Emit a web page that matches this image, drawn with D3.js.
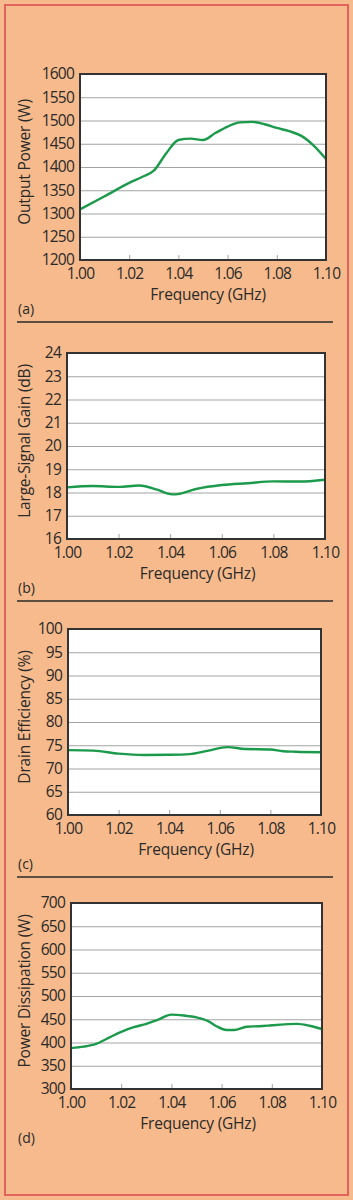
<!DOCTYPE html>
<html>
<head>
<meta charset="utf-8">
<script src="https://cdn.jsdelivr.net/npm/d3@7"></script>
<style>
  html, body { margin: 0; padding: 0; background: #f6ba8c; }
  svg { display: block; }
  text { font-family: "Open Sans", Lato, sans-serif; fill: #2a2a2a; }
</style>
</head>
<body>
<svg id="chart" width="353" height="1200"></svg>
<script>
// x ticks shared by all four panels
const freqTicks = [1.00, 1.02, 1.04, 1.06, 1.08, 1.10];

// (a) output power
const freqA = [1.000, 1.010, 1.020, 1.025, 1.030, 1.035, 1.040, 1.045, 1.050, 1.055, 1.060, 1.065, 1.070, 1.075, 1.080, 1.085, 1.090, 1.095, 1.100];
const outputPower = [1309, 1337, 1366, 1378, 1392, 1429, 1458, 1461, 1458, 1473, 1487, 1496, 1497, 1492, 1484, 1477, 1467, 1446, 1417];
const powerTicks = [1200, 1250, 1300, 1350, 1400, 1450, 1500, 1550, 1600];

// (b) large-signal gain
const freqB = [1.000, 1.010, 1.020, 1.028, 1.035, 1.040, 1.042, 1.050, 1.060, 1.070, 1.080, 1.090, 1.100];
const gain = [18.22, 18.28, 18.24, 18.3, 18.12, 17.93, 17.92, 18.15, 18.32, 18.4, 18.48, 18.47, 18.55];
const gainTicks = [16, 17, 18, 19, 20, 21, 22, 23, 24];

// (c) drain efficiency
const freqC = [1.000, 1.010, 1.020, 1.030, 1.040, 1.048, 1.055, 1.063, 1.070, 1.080, 1.085, 1.090, 1.100];
const efficiency = [73.95, 73.85, 73.2, 72.9, 72.95, 73.1, 73.8, 74.6, 74.2, 74.1, 73.7, 73.6, 73.5];
const effTicks = [60, 65, 70, 75, 80, 85, 90, 95, 100];

// (d) power dissipation
const freqD = [1.000, 1.005, 1.010, 1.015, 1.020, 1.025, 1.030, 1.035, 1.040, 1.045, 1.050, 1.055, 1.058, 1.062, 1.065, 1.070, 1.075, 1.080, 1.085, 1.090, 1.095, 1.100];
const dissipation = [388, 391, 397, 410, 423, 433, 440, 450, 460, 458, 454, 445, 435, 427, 427, 434, 435, 437, 439, 440, 436, 429];
const dissTicks = [300, 350, 400, 450, 500, 550, 600, 650, 700];

const panels = [
  { tag: '(a)', ylabel: 'Output Power (W)', x: freqA, y: outputPower, ticks: powerTicks,
    left: 80, right: 326, top: 74, bottom: 260, shift: 5 },
  { tag: '(b)', ylabel: 'Large-Signal Gain (dB)', x: freqB, y: gain, ticks: gainTicks,
    left: 67, right: 325, top: 353, bottom: 539, shift: 1.5 },
  { tag: '(c)', ylabel: 'Drain Efficiency (%)', x: freqC, y: efficiency, ticks: effTicks,
    left: 68, right: 321, top: 629, bottom: 815, shift: 1.5 },
  { tag: '(d)', ylabel: 'Power Dissipation (W)', x: freqD, y: dissipation, ticks: dissTicks,
    left: 71, right: 322, top: 903, bottom: 1089, shift: 1.5 }
];

const svg = d3.select('#chart');

// outer red frame
svg.append('rect')
  .attr('x', 5).attr('y', 5).attr('width', 343).attr('height', 1190)
  .attr('fill', '#f6ba8c').attr('stroke', '#e2625c').attr('stroke-width', 2);

panels.forEach((p, i) => {
  const xs = d3.scaleLinear().domain([1.0, 1.1]).range([p.left, p.right]);
  const ys = d3.scaleLinear().domain(d3.extent(p.ticks)).range([p.bottom, p.top]);
  const g = svg.append('g');

  g.append('rect')
    .attr('x', p.left).attr('y', p.top)
    .attr('width', p.right - p.left).attr('height', p.bottom - p.top)
    .attr('fill', '#fff');

  // horizontal grid
  g.append('g')
    .attr('transform', `translate(${p.left},0)`)
    .call(d3.axisLeft(ys).tickValues(p.ticks).tickSize(-(p.right - p.left)).tickFormat(''))
    .call(a => a.select('.domain').remove())
    .call(a => a.selectAll('line').attr('stroke', '#a3a3a3').attr('stroke-width', 1.2));

  // small x ticks inside the bottom edge
  g.append('g')
    .attr('transform', `translate(0,${p.bottom})`)
    .call(d3.axisTop(xs).tickValues(freqTicks.slice(1, -1)).tickSize(5).tickFormat(''))
    .call(a => a.select('.domain').remove())
    .call(a => a.selectAll('line').attr('stroke', '#a3a3a3').attr('stroke-width', 1));

  // the curve
  const line = d3.line()
    .x((d, k) => xs(p.x[k]))
    .y(d => ys(d))
    .curve(d3.curveMonotoneX);
  g.append('path')
    .datum(p.y)
    .attr('d', line)
    .attr('fill', 'none')
    .attr('stroke', '#1b9a4b')
    .attr('stroke-width', 2.4)
    .attr('stroke-linejoin', 'round');

  // plot frame
  g.append('rect')
    .attr('x', p.left).attr('y', p.top)
    .attr('width', p.right - p.left).attr('height', p.bottom - p.top)
    .attr('fill', 'none').attr('stroke', '#333').attr('stroke-width', 2);

  // y tick labels
  g.append('g')
    .attr('transform', `translate(${p.left - 6},0)`)
    .call(d3.axisLeft(ys).tickValues(p.ticks).tickSize(0).tickPadding(0).tickFormat(d3.format('d')))
    .call(a => a.select('.domain').remove())
    .call(a => a.selectAll('text').attr('font-size', 15.5).attr('fill', '#2a2a2a')
      .attr('letter-spacing', -0.8).attr('font-family', '"Open Sans", sans-serif'));

  // x tick labels
  g.append('g')
    .attr('transform', `translate(0,${p.bottom + 8})`)
    .call(d3.axisBottom(xs).tickValues(freqTicks).tickSize(0).tickPadding(0).tickFormat(d3.format('.2f')))
    .call(a => a.select('.domain').remove())
    .call(a => a.selectAll('text').attr('font-size', 15.5).attr('fill', '#2a2a2a')
      .attr('letter-spacing', -0.8).attr('font-family', '"Open Sans", sans-serif'));

  g.append('text')
    .attr('x', (p.left + p.right) / 2 + p.shift).attr('y', p.bottom + 40)
    .attr('text-anchor', 'middle').attr('font-size', 15.5).attr('letter-spacing', -0.2)
    .text('Frequency (GHz)');

  g.append('text')
    .attr('transform', `translate(30,${(p.top + p.bottom) / 2 - 5}) rotate(-90)`)
    .attr('text-anchor', 'middle').attr('font-size', 15.5).attr('letter-spacing', -0.2)
    .text(p.ylabel);

  g.append('text')
    .attr('x', 18).attr('y', p.bottom + 54)
    .attr('font-size', 14)
    .text(p.tag);

  if (i < panels.length - 1) {
    g.append('line')
      .attr('x1', 17).attr('x2', 333)
      .attr('y1', p.bottom + 62).attr('y2', p.bottom + 62)
      .attr('stroke', '#2a2a2a').attr('stroke-width', 1.3);
  }
});
</script>
</body>
</html>
